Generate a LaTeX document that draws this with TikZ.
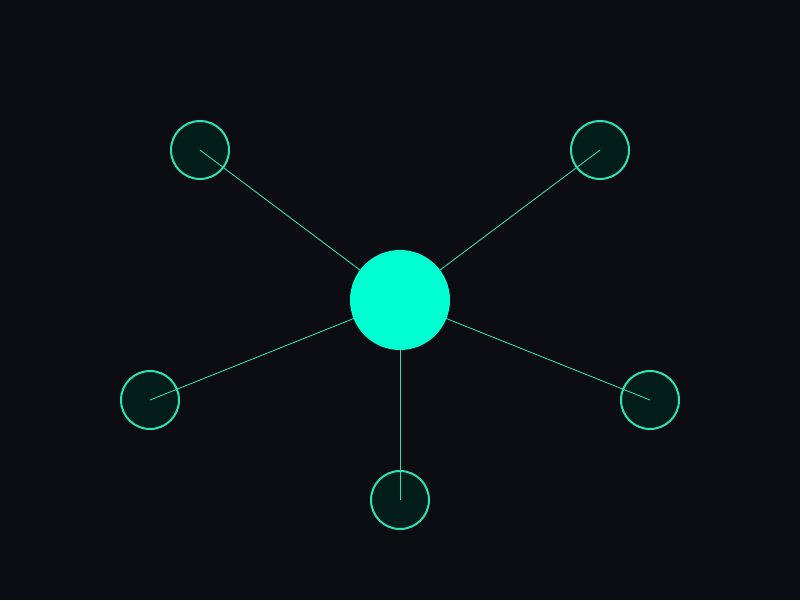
\documentclass[tikz,border=0pt]{standalone}
\definecolor{bg}{HTML}{0B0D12}
\definecolor{hub}{HTML}{00FFD1}
\definecolor{ring}{HTML}{2DE3B5}
\definecolor{leaffill}{HTML}{031D1B}
\definecolor{wire}{HTML}{33D9B0}
\begin{document}
\begin{tikzpicture}[x=1pt,y=-1pt,
  hubnode/.style={circle,fill=hub,minimum size=100pt,inner sep=0pt},
  leafnode/.style={circle,draw=ring,fill=leaffill,line width=2pt,minimum size=58pt,inner sep=0pt},
  wireline/.style={draw=wire,line width=0.9pt}]
\fill[bg] (0,0) rectangle (800,600);
\useasboundingbox (0,0) rectangle (800,600);
\node[leafnode] (a) at (200,150) {};
\node[leafnode] (b) at (600,150) {};
\node[leafnode] (c) at (150,400) {};
\node[leafnode] (d) at (650,400) {};
\node[leafnode] (e) at (400,500) {};
\foreach \n in {a,b,c,d,e} \draw[wireline] (400,300) -- (\n.center);
\node[hubnode] (h) at (400,300) {};
\end{tikzpicture}
\end{document}
